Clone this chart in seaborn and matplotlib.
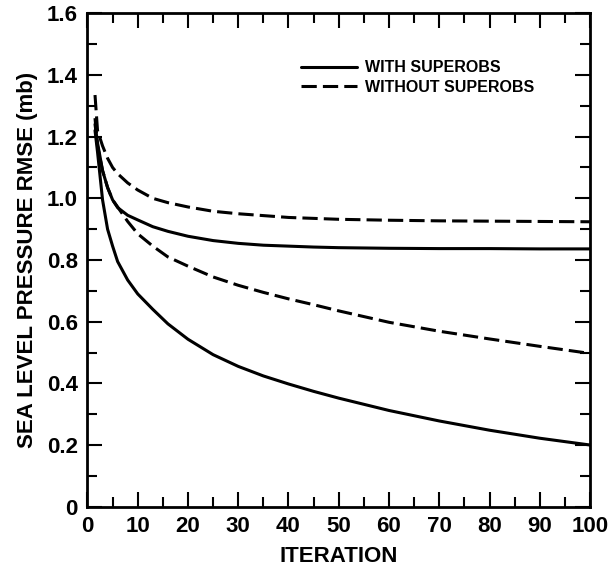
import pandas as pd
import seaborn as sns
import matplotlib.pyplot as plt
from matplotlib.ticker import MultipleLocator, FuncFormatter

iteracoes = [1.5, 2, 3, 4, 5, 6, 8, 10, 13, 16, 20, 25, 30, 35, 40, 45, 50, 60, 70, 80, 90, 100]

# WITH SUPEROBS (solid): the flat one and the one that keeps dropping
com_plano = [1.24, 1.18, 1.09, 1.035, 0.995, 0.97, 0.945, 0.93, 0.908, 0.893, 0.877, 0.863,
             0.854, 0.848, 0.845, 0.842, 0.84, 0.838, 0.837, 0.837, 0.836, 0.836]
com_queda = [1.22, 1.15, 0.995, 0.9, 0.845, 0.795, 0.735, 0.69, 0.64, 0.593, 0.543, 0.493,
             0.455, 0.424, 0.398, 0.374, 0.352, 0.312, 0.278, 0.248, 0.222, 0.2]

# WITHOUT SUPEROBS (dashed)
sem_plano = [1.335, 1.22, 1.17, 1.13, 1.1, 1.08, 1.05, 1.027, 1.0, 0.986, 0.972, 0.958,
             0.95, 0.944, 0.938, 0.935, 0.932, 0.929, 0.927, 0.926, 0.925, 0.924]
sem_queda = [1.26, 1.17, 1.09, 1.035, 0.995, 0.972, 0.925, 0.885, 0.845, 0.81, 0.78, 0.745,
             0.718, 0.695, 0.674, 0.655, 0.635, 0.598, 0.569, 0.544, 0.52, 0.497]

curvas = {
    ('WITH SUPEROBS', 'a'): com_plano,
    ('WITH SUPEROBS', 'b'): com_queda,
    ('WITHOUT SUPEROBS', 'a'): sem_plano,
    ('WITHOUT SUPEROBS', 'b'): sem_queda,
}
df = pd.concat([pd.DataFrame({'iteration': iteracoes, 'rmse': v, 'caso': c, 'run': r})
                for (c, r), v in curvas.items()], ignore_index=True)

sns.set_style('ticks')
plt.rcParams['font.family'] = ['Liberation Sans', 'DejaVu Sans']
plt.rcParams['font.weight'] = 'bold'
plt.rcParams['axes.labelweight'] = 'bold'
for k in ['text.color', 'axes.labelcolor', 'xtick.color', 'ytick.color', 'axes.edgecolor']:
    plt.rcParams[k] = 'black'

fig = plt.figure(figsize=(6.13, 5.72), dpi=100)
ax = fig.add_axes([0.1427, 0.1142, 0.8198, 0.8625])

estilos = {'WITH SUPEROBS': '', 'WITHOUT SUPEROBS': (5, 2)}
for (c, r), g in df.groupby(['caso', 'run']):
    sns.lineplot(data=g, x='iteration', y='rmse', ax=ax, color='black', lw=2.2,
                 label=c if r == 'a' else None, legend=False)
    if estilos[c]:
        ax.lines[-1].set_dashes(estilos[c])

ax.set_xlim(0, 100)
ax.set_ylim(0, 1.6)
ax.xaxis.set_major_locator(MultipleLocator(10))
ax.xaxis.set_minor_locator(MultipleLocator(5))
ax.yaxis.set_major_locator(MultipleLocator(0.2))
ax.yaxis.set_minor_locator(MultipleLocator(0.1))
ax.yaxis.set_major_formatter(FuncFormatter(lambda v, p: '0' if abs(v) < 1e-9 else f'{v:.1f}'))

ax.tick_params(which='both', direction='in', top=True, right=True, width=1.5, labelsize=16)
ax.tick_params(which='major', length=11, pad=7)
ax.tick_params(which='minor', length=7.5)
for s in ax.spines.values():
    s.set_linewidth(2)

ax.set_xlabel('ITERATION', fontsize=16, fontweight='bold', labelpad=6)
ax.set_ylabel('SEA LEVEL PRESSURE RMSE (mb)', fontsize=16, fontweight='bold', labelpad=6)

hs, ls = ax.get_legend_handles_labels()
ax.legend(hs, ls, loc='upper left', bbox_to_anchor=(0.425, 0.905), frameon=False,
          fontsize=11.5, handlelength=3.5, handletextpad=0.5, borderaxespad=0, borderpad=0,
          labelspacing=0.3)

plt.savefig('out.png', dpi=100)
